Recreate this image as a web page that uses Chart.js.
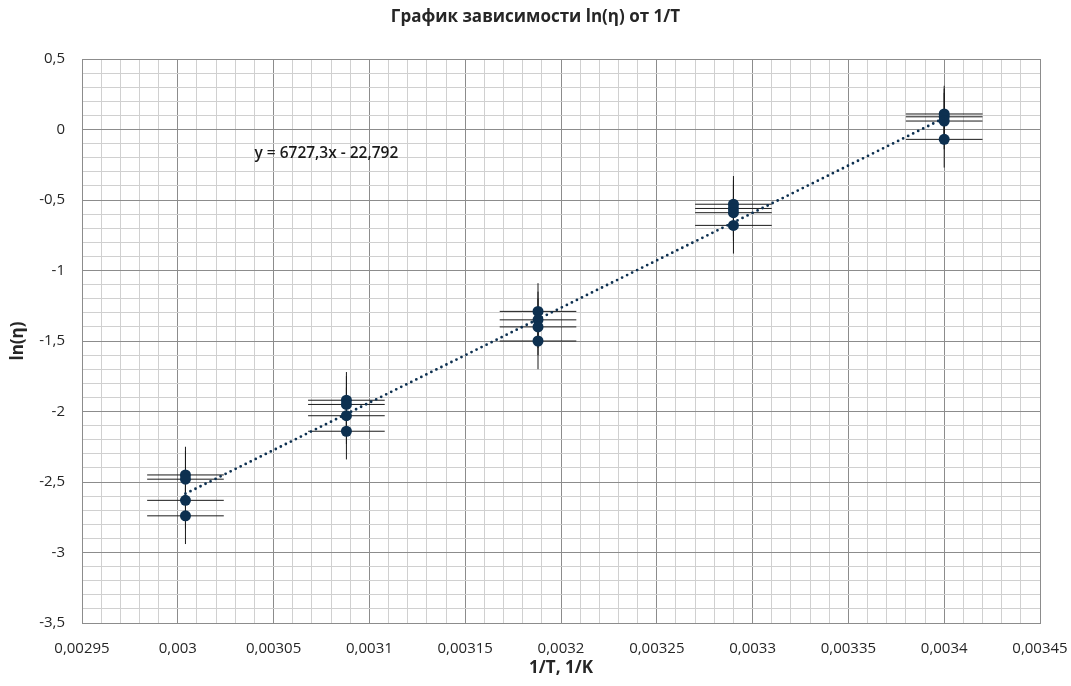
<!DOCTYPE html>
<html>
<head>
<meta charset="utf-8">
<script src="https://cdn.jsdelivr.net/npm/chart.js@4/dist/chart.umd.min.js"></script>
<style>
  html, body { margin: 0; padding: 0; background: #ffffff; }
  #wrap { width: 1071px; height: 686px; position: relative; }
</style>
</head>
<body>
<div id="wrap"><canvas id="c"></canvas></div>
<script>
// ---- data ----
const invT = [0.003004, 0.003088, 0.003188, 0.00329, 0.0034];      // 1/T, 1/K
const lnEtaRun1 = [-2.45, -1.92, -1.29, -0.53, 0.11];
const lnEtaRun2 = [-2.48, -1.95, -1.35, -0.56, 0.09];
const lnEtaRun3 = [-2.63, -2.03, -1.40, -0.59, 0.06];
const lnEtaRun4 = [-2.74, -2.14, -1.50, -0.68, -0.07];
const xError = 0.00002;
const yError = 0.2;
const trendX = [0.003004, 0.0034];
const trendY = [-2.583, 0.081];
const trendLabel = 'y = 6727,3x - 22,792';
const trendLabelPos = [0.00304, -0.172];
const xAxisRange = [0.00295, 0.00345];
const xMajorStep = 0.00005;
const xMinorStep = 0.00001;
const yAxisRange = [-3.5, 0.5];
const yMajorStep = 0.5;
const yMinorStep = 0.1;
const titleText = 'График зависимости ln(η) от 1/T';
const xTitle = '1/T, 1/K';
const yTitle = 'ln(η)';

// ---- build datasets ----
const runs = [lnEtaRun1, lnEtaRun2, lnEtaRun3, lnEtaRun4];
const points = [];
runs.forEach(r => r.forEach((y, i) => points.push({x: invT[i], y: y})));
const errData = [];
points.forEach(p => {
  errData.push({x: p.x - xError, y: p.y}, {x: p.x + xError, y: p.y}, {x: NaN, y: null});
  errData.push({x: p.x, y: p.y - yError}, {x: p.x, y: p.y + yError}, {x: NaN, y: null});
});
const trendData = trendX.map((x, i) => ({x: x, y: trendY[i]}));

const isMajor = (v, step) => Math.abs(Math.round(v / step) * step - v) < step * 1e-4;
const fmt = (v, d) => String(Number(v.toFixed(d))).replace('.', ',');

const FONT = "'Open Sans', 'Liberation Sans', sans-serif";
const TXT = '#262626';
const MAJOR = '#8c8c8c';
const MINOR = '#d0d0d0';
const NAVY = '#0d3050';

const labelPlugin = {
  id: 'trendLabel',
  afterDatasetsDraw(chart) {
    const {ctx, scales} = chart;
    const px = scales.x.getPixelForValue(trendLabelPos[0]);
    const py = scales.y.getPixelForValue(trendLabelPos[1]);
    ctx.save();
    ctx.font = "600 15.5px " + FONT;
    ctx.fillStyle = '#1a1a1a';
    ctx.textAlign = 'left';
    ctx.textBaseline = 'middle';
    ctx.fillText(trendLabel, px, py);
    ctx.restore();
  }
};

new Chart(document.getElementById('c'), {
  type: 'scatter',
  data: {
    datasets: [
      {
        label: 'trend',
        type: 'line',
        data: trendData,
        borderColor: NAVY,
        borderWidth: 2.8,
        borderDash: [0, 5.6],
        borderCapStyle: 'round',
        pointRadius: 0,
        fill: false
      },
      {
        label: 'ln(η)',
        data: points,
        backgroundColor: NAVY,
        borderColor: NAVY,
        pointRadius: 5.5,
        pointHoverRadius: 5.5,
        borderWidth: 0
      },
      {
        label: 'errors',
        type: 'line',
        data: errData,
        borderColor: '#1a1a1a',
        borderWidth: 1,
        pointRadius: 0,
        spanGaps: false,
        fill: false
      }
    ]
  },
  options: {
    responsive: true,
    maintainAspectRatio: false,
    animation: false,
    layout: { padding: { left: 0, right: 0, top: 0, bottom: 0 } },
    plugins: {
      legend: { display: false },
      tooltip: { enabled: false },
      title: {
        display: true,
        text: titleText,
        color: TXT,
        font: { family: FONT, size: 17, weight: 'bold' },
        padding: { top: 7, bottom: 31.6 }
      }
    },
    scales: {
      x: {
        type: 'linear',
        min: xAxisRange[0],
        max: xAxisRange[1],
        afterFit: (s) => { s.height = 63; s.paddingRight = 31; s.paddingLeft = 0; },
        border: { display: true, color: MAJOR, width: 1 },
        grid: {
          drawTicks: false,
          color: (c) => isMajor(c.tick.value, xMajorStep) ? MAJOR : MINOR,
          lineWidth: 1
        },
        ticks: {
          stepSize: xMinorStep,
          maxTicksLimit: 200,
          autoSkip: false,
          maxRotation: 0,
          padding: 17,
          color: TXT,
          font: { family: FONT, size: 15 },
          callback: (v) => isMajor(v, xMajorStep) ? fmt(v, 6) : ''
        },
        title: {
          display: true,
          text: xTitle,
          color: TXT,
          font: { family: FONT, size: 17, weight: 'bold' },
          padding: { top: 0, bottom: 8 }
        }
      },
      y: {
        type: 'linear',
        min: yAxisRange[0],
        max: yAxisRange[1],
        afterFit: (s) => { s.width = 82; },
        border: { display: true, color: MAJOR, width: 1 },
        grid: {
          drawTicks: false,
          color: (c) => isMajor(c.tick.value, yMajorStep) ? MAJOR : MINOR,
          lineWidth: 1
        },
        ticks: {
          stepSize: yMinorStep,
          maxTicksLimit: 200,
          autoSkip: false,
          padding: 17,
          color: TXT,
          font: { family: FONT, size: 15 },
          callback: (v) => isMajor(v, yMajorStep) ? fmt(v, 3) : ''
        },
        title: {
          display: true,
          text: yTitle,
          color: TXT,
          font: { family: FONT, size: 17, weight: 'bold' },
          padding: { top: 8, bottom: 0 }
        }
      }
    }
  },
  plugins: [labelPlugin]
});
</script>
</body>
</html>
